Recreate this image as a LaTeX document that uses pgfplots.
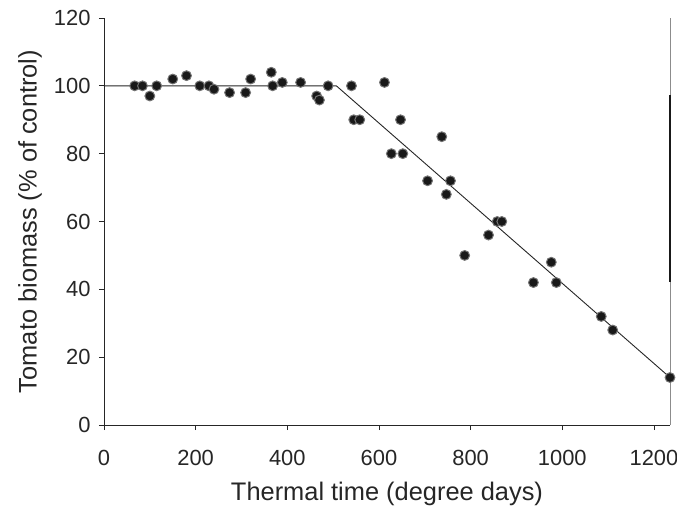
\documentclass[border=0pt]{standalone}
\usepackage{pgfplots}
\pgfplotsset{compat=1.18}
\usepackage{fontspec}
\setmainfont{Liberation Sans}

\begin{document}
\begin{tikzpicture}
  \begin{axis}[
      name=ax,
      scale only axis,
      width=566bp, height=407bp,
      xmin=0, xmax=1235,
      ymin=0, ymax=120,
      xtick={0,200,...,1200},
      ytick={0,20,...,120},
      axis x line*=bottom,
      axis y line*=left,
      axis line style={-, black!85, line width=0.8bp},
      tick align=outside,
      major tick length=5bp,
      tick style={black!85, line width=0.8bp},
      /pgf/number format/assume math mode=true,
      /pgf/number format/1000 sep={},
      tick label style={font=\fontsize{22}{26}\selectfont, text=black!85},
      label style={font=\fontsize{25.5}{30}\selectfont, text=black!85},
      xlabel={Thermal time (degree days)},
      ylabel={Tomato biomass (\% of control)},
      xticklabel style={yshift=-17bp},
      yticklabel style={xshift=-5bp},
      xlabel style={at={([yshift=-69bp]axis description cs:0.5,0)}, anchor=center},
      ylabel style={at={([xshift=-74bp]axis description cs:0,0.5)}, anchor=center},
      clip=false,
    ]
    % fitted broken-stick line
    \addplot[black!85, line width=0.9bp] coordinates {
      (0,100) (507,100) (1235,14)
    };

    % observations
    \addplot[only marks, mark=*, mark size=4.9bp,
      mark options={fill=black!90, draw=black!55, line width=1bp}] coordinates {
      (67,100) (84,100) (100,97) (115,100) (150,102) (180,103)
      (209,100) (229,100) (240,99) (274,98) (309,98) (320,102)
      (365,104) (368,100) (389,101) (429,101) (464,97) (470,95.8)
      (489,100) (540,100) (545,90) (558,90) (612,101) (627,80)
      (647,90) (652,80) (706,72) (737,85) (747,68) (756,72)
      (787,50) (839,56) (858,60) (868,60) (937,42) (976,48)
      (987,42) (1085,32) (1110,28) (1235,14)
    };

    % right frame line (with the darker stretch seen in the original)
    \draw[black!45, line width=0.9bp] (rel axis cs:1,0) -- (rel axis cs:1,1);
    \draw[black!90, line width=1.8bp] (axis cs:1235,42.2) -- (axis cs:1235,97.3);
  \end{axis}
  \pgfresetboundingbox
  \path ([xshift=-104bp,yshift=-85bp]ax.south west)
    rectangle ([xshift=7bp,yshift=18bp]ax.north east);
\end{tikzpicture}
\end{document}
